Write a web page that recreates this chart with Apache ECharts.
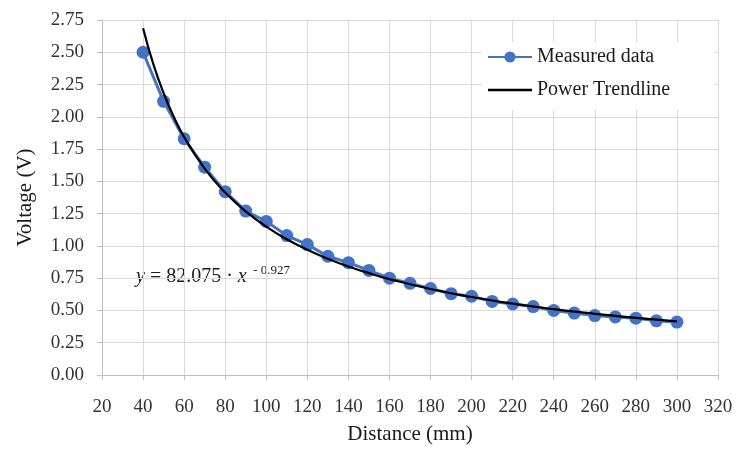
<!DOCTYPE html>
<html><head><meta charset="utf-8">
<script src="https://cdn.jsdelivr.net/npm/echarts@6/dist/echarts.min.js"></script>
<style>html,body{margin:0;padding:0;background:#fff}#c{width:736px;height:450px}</style>
</head><body><div id="c"></div>
<script>
var distances = [40,50,60,70,80,90,100,110,120,130,140,150,160,170,180,190,200,210,220,230,240,250,260,270,280,290,300];
var voltages  = [2.50,2.12,1.83,1.61,1.42,1.27,1.19,1.08,1.01,0.92,0.87,0.81,0.75,0.71,0.67,0.63,0.61,0.57,0.55,0.53,0.50,0.48,0.46,0.45,0.44,0.42,0.41];
var trendX = [40,45,50,55,60,70,80,90,100,110,120,130,140,150,160,180,200,220,240,260,280,300];
var trendY = [2.686,2.408,2.184,1.999,1.844,1.599,1.413,1.267,1.149,1.051,0.970,0.901,0.841,0.789,0.743,0.666,0.604,0.553,0.510,0.474,0.442,0.415];
var xTicks = {min:20, max:320, interval:20};
var yTicks = {min:0, max:2.75, interval:0.25};

var font = 'Liberation Serif';
var chart = echarts.init(document.getElementById('c'));
function zip(a,b){return a.map(function(v,i){return [v,b[i]];});}
chart.setOption({
  animation:false,
  textStyle:{fontFamily:font},
  grid:{left:102, right:18, top:20, bottom:72},
  xAxis:{type:'value', min:xTicks.min, max:xTicks.max, interval:xTicks.interval,
    name:'Distance (mm)', nameLocation:'middle', nameGap:49,
    nameTextStyle:{fontFamily:font, fontSize:21, color:'#1a1a1a'},
    axisLabel:{fontFamily:font, fontSize:19, color:'#333', margin:23},
    axisLine:{show:true, lineStyle:{color:'#bfbfbf'}},
    axisTick:{show:true, length:5, lineStyle:{color:'#bfbfbf'}},
    splitLine:{show:true, lineStyle:{color:'#d9d9d9', width:1}}},
  yAxis:{type:'value', min:yTicks.min, max:yTicks.max, interval:yTicks.interval,
    name:'Voltage (V)', nameLocation:'middle', nameGap:66, nameRotate:90,
    nameTextStyle:{fontFamily:font, fontSize:21, color:'#1a1a1a'},
    axisLabel:{fontFamily:font, fontSize:19, color:'#333', margin:18,
      formatter:function(v){return v.toFixed(2);}},
    axisLine:{show:true, lineStyle:{color:'#bfbfbf'}},
    axisTick:{show:true, length:5, lineStyle:{color:'#bfbfbf'}},
    splitLine:{show:true, lineStyle:{color:'#d9d9d9', width:1}}},
  legend:{orient:'vertical', left:482, top:42, backgroundColor:'#fff',
    padding:[5,44,10,5], itemGap:13, itemWidth:44, itemHeight:14,
    textStyle:{fontFamily:font, fontSize:20, color:'#1a1a1a'},
    data:[{name:'Measured data'},
          {name:'Power Trendline', icon:'path://M0,0 L40,0 L40,2.2 L0,2.2 Z'}]},
  graphic:[{type:'text', left:136, top:264, style:{
    rich:{i:{fontFamily:font, fontStyle:'italic', fontSize:20, fill:'#1a1a1a'},
          n:{fontFamily:font, fontSize:20, fill:'#1a1a1a'},
          s:{fontFamily:font, fontSize:13, fill:'#1a1a1a', padding:[0,0,12,0]}},
    text:'{i|y}{n| = 82.075 · }{i|x}{s|  - 0.927}'}}],
  series:[
    {name:'Measured data', type:'line', data:zip(distances,voltages),
      symbol:'circle', symbolSize:13, color:'#4472C4',
      lineStyle:{color:'#4472C4', width:3}, itemStyle:{color:'#4472C4'}, z:2},
    {name:'Power Trendline', type:'line', data:zip(trendX,trendY),
      symbol:'none', smooth:true, color:'#000',
      lineStyle:{color:'#000', width:2.2}, z:3}
  ]
});
</script></body></html>
